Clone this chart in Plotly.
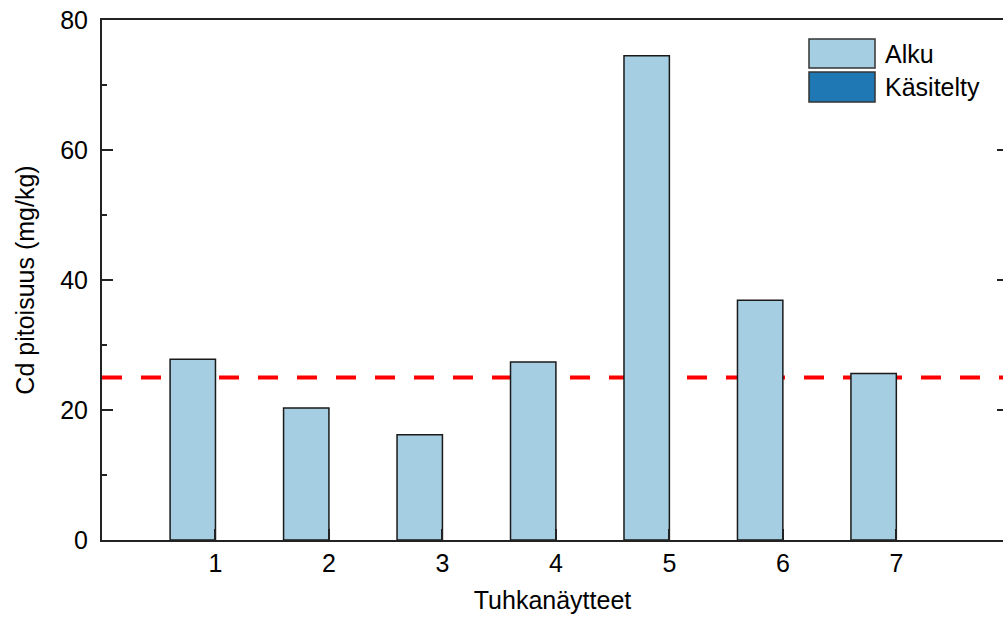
import plotly.graph_objects as go

# Cadmium content of ash samples (mg/kg)
samples = [1, 2, 3, 4, 5, 6, 7]
alku = [27.8, 20.3, 16.2, 27.4, 74.5, 36.9, 25.6]
kasitelty = [None, None, None, None, None, None, None]
limit_value = 25
series_names = ["Alku", "Käsitelty"]
series_colors = ["#a6cee3", "#1f78b4"]

FONT = "Liberation Sans, Arial, sans-serif"
FS = 25
W, H = 1003, 619
ML, MR, MT, MB = 102, 0, 20, 79

fig = go.Figure()

fig.add_trace(go.Bar(
    x=samples, y=alku, name=series_names[0],
    width=0.4, offset=-0.4,
    marker=dict(color=series_colors[0], line=dict(color="#1a1a1a", width=1.5)),
    showlegend=False,
))
fig.add_trace(go.Bar(
    x=samples, y=kasitelty, name=series_names[1],
    width=0.4, offset=0.0,
    marker=dict(color=series_colors[1], line=dict(color="#1a1a1a", width=1.5)),
    showlegend=False,
))
# empty helper trace that carries the right-hand tick axis
fig.add_trace(go.Scatter(x=[None], y=[None], yaxis="y2", showlegend=False, hoverinfo="skip"))

# limit line, drawn behind the bars
fig.add_shape(type="line", xref="paper", yref="y", x0=0, x1=1, y0=limit_value, y1=limit_value,
              line=dict(color="#ff0000", width=4, dash="20px,19px"), layer="below")

# legend boxes
pw = W - ML - MR
ph = H - MT - MB
def px_x(p):
    return (p - ML) / pw
def px_y(p):
    return (H - MB - p) / ph

box_rows = [(39, 68), (72, 102)]
for name, color, (top, bot) in zip(series_names, series_colors, box_rows):
    fig.add_shape(type="rect", xref="paper", yref="paper",
                  x0=px_x(809), x1=px_x(875), y0=px_y(bot), y1=px_y(top),
                  fillcolor=color, line=dict(color="#333333", width=1.5))
    fig.add_annotation(xref="paper", yref="paper", x=px_x(883), y=px_y((top + bot) / 2),
                       text=name, showarrow=False, xanchor="left", yanchor="middle",
                       font=dict(family=FONT, size=FS, color="#000000"))

axis_common = dict(
    showline=True, linecolor="#222222", linewidth=2,
    ticks="inside", ticklen=11, tickwidth=2, tickcolor="#222222",
    showgrid=False, zeroline=False,
    tickfont=dict(family=FONT, size=FS, color="#000000"),
)

fig.update_layout(
    width=W, height=H,
    margin=dict(l=ML, r=MR, t=MT, b=MB, pad=0),
    paper_bgcolor="#ffffff", plot_bgcolor="#ffffff",
    barmode="overlay",
    xaxis=dict(
        **axis_common,
        range=[0, 7.94], tickmode="array", tickvals=samples,
        ticktext=[str(s) for s in samples], mirror=True,
        title=dict(text="Tuhkanäytteet", font=dict(family=FONT, size=FS, color="#000000"), standoff=15),
    ),
    yaxis=dict(
        **axis_common,
        range=[0, 80], dtick=20, tick0=0, ticklabelstandoff=7,
        minor=dict(ticks="inside", ticklen=5, tickwidth=2, tickcolor="#222222", dtick=10, showgrid=False),
        title=dict(text="Cd pitoisuus (mg/kg)", font=dict(family=FONT, size=FS, color="#000000"), standoff=18),
    ),
    yaxis2=dict(
        overlaying="y", side="right", anchor="x",
        range=[0, 80], dtick=20, tick0=0,
        showline=False, showgrid=False, zeroline=False, showticklabels=False,
        ticks="inside", ticklen=6, tickwidth=2, tickcolor="#222222",
    ),
)

fig.write_html("out.html")
